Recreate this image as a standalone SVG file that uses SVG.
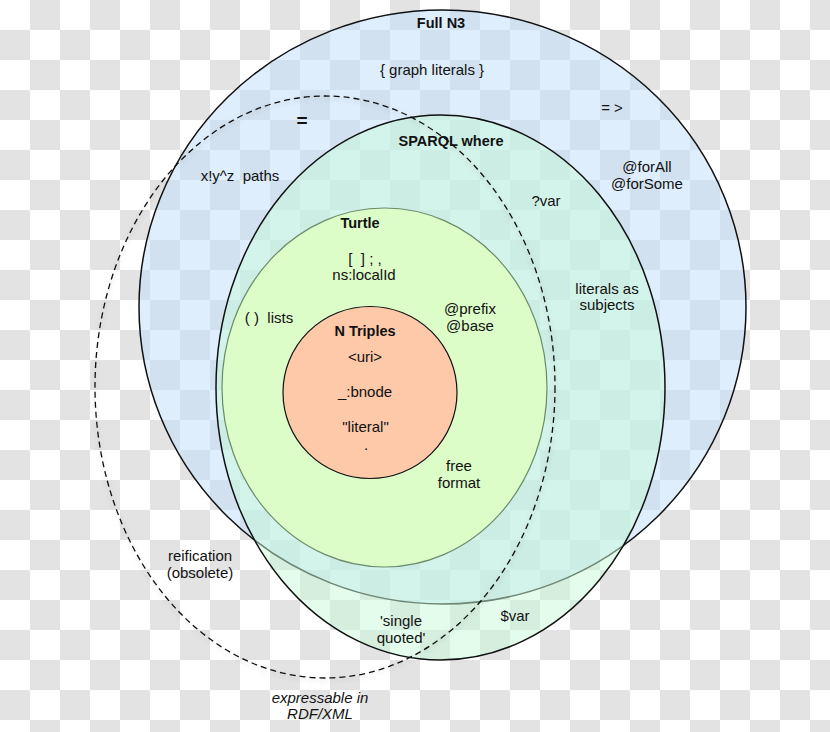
<svg xmlns="http://www.w3.org/2000/svg" width="830" height="732" viewBox="0 0 830 732">
  <defs>
    <pattern id="checker" x="0" y="0" width="60" height="60" patternUnits="userSpaceOnUse">
      <rect x="0" y="0" width="60" height="60" fill="#ffffff"/>
      <rect x="30" y="0" width="30" height="30" fill="#e3e3e3"/>
      <rect x="0" y="30" width="30" height="30" fill="#e3e3e3"/>
    </pattern>
    <filter id="shadow" x="-10%" y="-10%" width="120%" height="120%">
      <feDropShadow dx="0" dy="2" stdDeviation="2.5" flood-color="#000000" flood-opacity="0.18"/>
    </filter>
  </defs>
  <style>
    text { font-family: "Liberation Sans", Arial, Helvetica, sans-serif; font-size: 15px; fill: #111111; text-anchor: middle; }
    .b { font-weight: bold; font-size: 14.5px; }
    .i { font-style: italic; }
    .pre { white-space: pre; }
  </style>

  <rect x="0" y="0" width="830" height="732" fill="url(#checker)"/>

  <g id="full-n3">
    <ellipse cx="442.5" cy="307" rx="303.5" ry="297" fill="rgb(192,222,249)" fill-opacity="0.52" stroke="#111111" stroke-width="1.5"/>
  </g>

  <g id="sparql-where">
    <ellipse cx="440.5" cy="387.5" rx="224.5" ry="272.5" fill="rgb(200,250,215)" fill-opacity="0.5" stroke="#111111" stroke-width="1.5"/>
  </g>

  <g id="turtle">
    <ellipse cx="384.5" cy="387.5" rx="162.5" ry="179.5" fill="#dcfcc8" stroke="#6b8c6b" stroke-width="1.2"/>
  </g>

  <g id="n-triples">
    <ellipse cx="370" cy="392.5" rx="87" ry="86" fill="#fdc9a9" stroke="#111111" stroke-width="1.2"/>
  </g>

  <g id="rdf-xml">
    <ellipse cx="325" cy="387" rx="230" ry="291" fill="none" stroke="#111111" stroke-width="1.3" stroke-dasharray="6 4" filter="url(#shadow)"/>
  </g>

  <g id="labels">
    <text class="b" x="441" y="28">Full N3</text>
    <text x="432" y="75">{ graph literals }</text>
    <text x="612" y="113">= &gt;</text>
    <text x="302" y="127" style="font-size:19px;font-weight:bold">=</text>
    <text class="pre" x="240" y="181">x!y^z  paths</text>
    <text class="b" x="451" y="146">SPARQL where</text>
    <text x="647" y="172">@forAll</text>
    <text x="647" y="189">@forSome</text>
    <text x="546" y="206">?var</text>
    <text x="607" y="294">literals as</text>
    <text x="607" y="310">subjects</text>

    <text class="b" x="360" y="228">Turtle</text>
    <text class="pre" x="365" y="264">[  ] ; ,</text>
    <text x="364" y="280">ns:localId</text>
    <text class="pre" x="269" y="323">( )  lists</text>
    <text x="470" y="314">@prefix</text>
    <text x="470" y="331">@base</text>
    <text x="459" y="471">free</text>
    <text x="459" y="488">format</text>

    <text class="b" x="365" y="336">N Triples</text>
    <text x="365" y="362">&lt;uri&gt;</text>
    <text x="365" y="397">_:bnode</text>
    <text x="365.5" y="432">"literal"</text>
    <text x="366" y="450">.</text>

    <text x="200" y="561">reification</text>
    <text x="200" y="578">(obsolete)</text>
    <text x="401" y="626">'single</text>
    <text x="401" y="643">quoted'</text>
    <text x="515" y="621">$var</text>
    <text class="i" x="320" y="703">expressable in</text>
    <text class="i" x="320" y="719">RDF/XML</text>
  </g>
</svg>
